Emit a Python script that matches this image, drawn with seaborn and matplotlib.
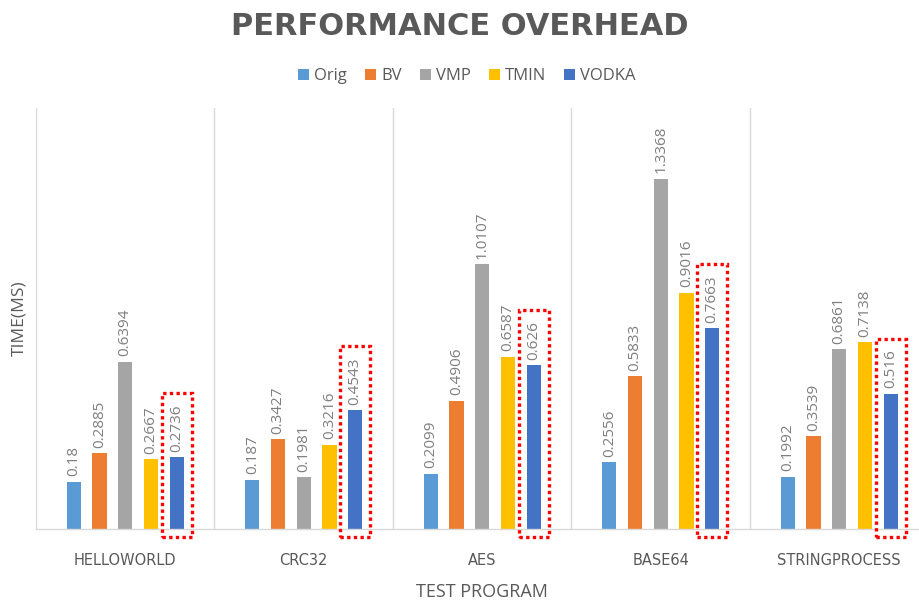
import matplotlib
matplotlib.use("Agg")
import matplotlib.pyplot as plt
import seaborn as sns
import pandas as pd
from matplotlib.patches import Rectangle

# Benchmark programs and protection methods
programs = ["HELLOWORLD", "CRC32", "AES", "BASE64", "STRINGPROCESS"]
methods = ["Orig", "BV", "VMP", "TMIN", "VODKA"]

# Execution time (ms) per method
orig = [0.18, 0.187, 0.2099, 0.2556, 0.1992]
bv = [0.2885, 0.3427, 0.4906, 0.5833, 0.3539]
vmp = [0.6394, 0.1981, 1.0107, 1.3368, 0.6861]
tmin = [0.2667, 0.3216, 0.6587, 0.9016, 0.7138]
vodka = [0.2736, 0.4543, 0.626, 0.7663, 0.516]

colors = ["#5B9BD5", "#ED7D31", "#A5A5A5", "#FFC000", "#4472C4"]
highlight = "VODKA"

sns.set_theme(style="white")
plt.rcParams["font.family"] = ["Open Sans", "DejaVu Sans"]

series = dict(zip(methods, [orig, bv, vmp, tmin, vodka]))
rows = [{"program": p, "method": m, "time": v}
        for m in methods for p, v in zip(programs, series[m])]
df = pd.DataFrame(rows)

W, H = 920, 602
TEXT = "#595959"
GRID = "#D9D9D9"

fig = plt.figure(figsize=(W / 100, H / 100), dpi=100)
ax = fig.add_axes([36 / W, 1 - 529 / H, (918 - 36) / W, (529 - 108) / H])

sns.barplot(data=df, x="program", y="time", hue="method",
            order=programs, hue_order=methods, palette=colors,
            width=0.72, gap=0.45, saturation=1, linewidth=0,
            errorbar=None, ax=ax)

ax.set_xlim(-0.5, -0.5 + (918 - 36) / 178.5)
ax.set_ylim(0, 1.608)

# category separators
for xv in [i - 0.5 for i in range(len(programs) + 1)]:
    ax.axvline(xv, color=GRID, lw=1, zorder=0)

for s in ["top", "right", "left"]:
    ax.spines[s].set_visible(False)
ax.spines["bottom"].set_color(GRID)
ax.spines["bottom"].set_linewidth(1)
ax.set_yticks([])
ax.tick_params(axis="x", length=0, pad=17, labelcolor=TEXT)
for lbl in ax.get_xticklabels():
    lbl.set_fontfamily("DejaVu Sans")
    lbl.set_fontsize(10.5)
ax.set_xlabel("TEST PROGRAM", fontsize=13, color=TEXT)
ax.xaxis.set_label_coords((482 - 36) / (918 - 36), -(597 - 529) / (529 - 108))
ax.xaxis.label.set_va("baseline")
ax.set_ylabel("TIME(MS)", fontsize=12.5, color=TEXT, labelpad=6)

# value labels
label_texts = {}
for m, cont in zip(methods, ax.containers):
    texts = ax.bar_label(cont, labels=[f"{v:g}" for v in series[m]],
                         rotation=90, padding=4, fontsize=11, color="#7F7F7F")
    label_texts[m] = (cont, texts)

handles, labels = ax.get_legend_handles_labels()
ax.get_legend().remove()
fig.legend(handles, labels, loc="center", bbox_to_anchor=(467 / W, 1 - 76 / H),
           ncol=5, frameon=False, fontsize=12, handlelength=0.65,
           handleheight=0.65, handletextpad=0.3, columnspacing=1.1,
           labelcolor=TEXT)

fig.text(0.5, 1 - 35 / H, "PERFORMANCE OVERHEAD", ha="center", va="baseline",
         fontsize=22, fontweight="bold", color=TEXT, family="DejaVu Sans")

# dotted frames around the highlighted method's bars and labels
fig.canvas.draw()
renderer = fig.canvas.get_renderer()
inv = ax.transData.inverted()
cont, texts = label_texts[highlight]
for bar, txt in zip(cont, texts):
    bb = bar.get_window_extent(renderer)
    tb = txt.get_window_extent(renderer)
    cx = (bb.x0 + bb.x1) / 2
    x0, y0 = inv.transform((cx - 15, bb.y0 - 8))
    x1, y1 = inv.transform((cx + 15, tb.y1 + 11))
    ax.add_patch(Rectangle((x0, y0), x1 - x0, y1 - y0, fill=False,
                           edgecolor="#FF0000", lw=2.4,
                           linestyle=(0, (1, 1)), clip_on=False, zorder=5))

fig.savefig("out.png", dpi=100)
